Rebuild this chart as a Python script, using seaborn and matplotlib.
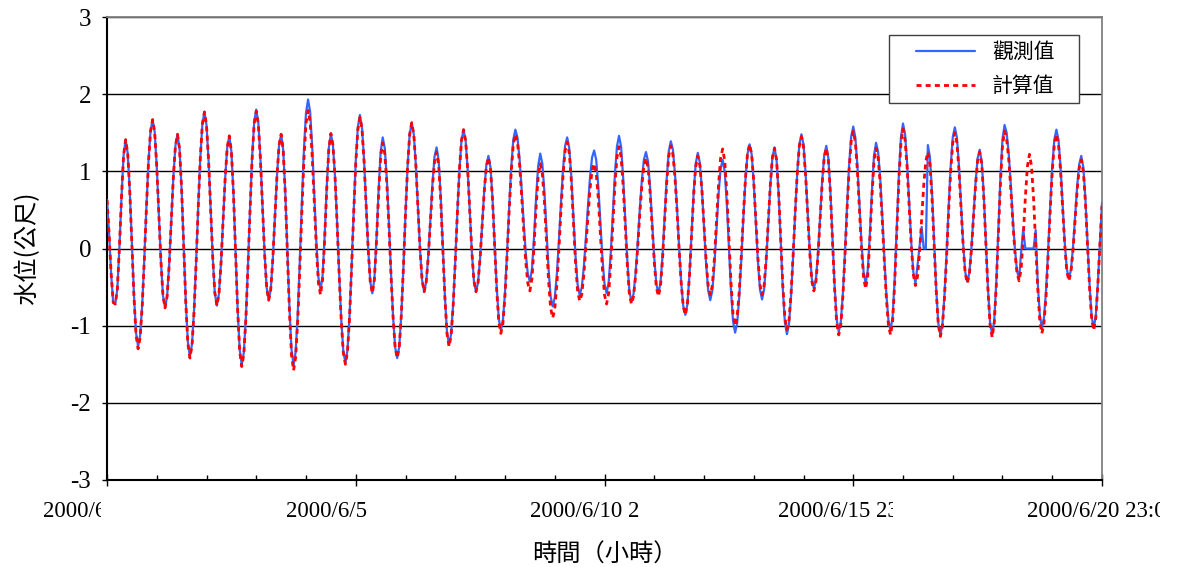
import numpy as np
import pandas as pd
import matplotlib
matplotlib.use("Agg")
import matplotlib.pyplot as plt
import seaborn as sns
from matplotlib.transforms import Bbox, TransformedBbox
from matplotlib.ticker import MultipleLocator
from matplotlib.patches import Rectangle

# ---------------- data (hourly water level, metres) ----------------
observed = [
    0.63, 0.20, -0.33, -0.70, -0.72, -0.52, 0.02, 0.67, 1.21, 1.41,
    1.23, 0.74, 0.07, -0.60, -1.09, -1.27,
    -1.12, -0.72, -0.13, 0.53, 1.12, 1.52, 1.67,
    1.51, 1.06, 0.45, -0.16, -0.61, -0.77,
    -0.62, -0.21, 0.36, 0.92, 1.33, 1.48,
    1.29, 0.76, 0.04, -0.68, -1.21, -1.40,
    -1.24, -0.80, -0.17, 0.54, 1.17, 1.61, 1.77,
    1.60, 1.14, 0.52, -0.11, -0.57, -0.74,
    -0.59, -0.19, 0.36, 0.91, 1.31, 1.46,
    1.26, 0.72, -0.03, -0.77, -1.31, -1.51,
    -1.35, -0.89, -0.22, 0.51, 1.18, 1.64, 1.80,
    1.63, 1.18, 0.57, -0.05, -0.50, -0.67,
    -0.53, -0.13, 0.41, 0.94, 1.34, 1.48,
    1.28, 0.73, -0.02, -0.76, -1.31, -1.51,
    -1.34, -0.86, -0.17, 0.59, 1.28, 1.76, 1.93,
    1.77, 1.31, 0.70, 0.08, -0.38, -0.54,
    -0.35, 0.16, 0.79, 1.30, 1.49,
    1.34, 0.93, 0.34, -0.33, -0.92, -1.33, -1.48,
    -1.32, -0.88, -0.23, 0.48, 1.13, 1.57, 1.73,
    1.58, 1.15, 0.58, 0.00, -0.43, -0.58,
    -0.39, 0.12, 0.74, 1.25, 1.44,
    1.30, 0.90, 0.33, -0.31, -0.88, -1.28, -1.42,
    -1.27, -0.85, -0.24, 0.45, 1.06, 1.48, 1.63,
    1.48, 1.08, 0.54, -0.01, -0.41, -0.56,
    -0.43, -0.09, 0.38, 0.84, 1.19, 1.31,
    1.14, 0.67, 0.03, -0.61, -1.08, -1.25,
    -1.11, -0.72, -0.17, 0.46, 1.01, 1.40, 1.54,
    1.40, 1.02, 0.49, -0.04, -0.42, -0.56,
    -0.44, -0.12, 0.32, 0.76, 1.08, 1.20,
    1.05, 0.64, 0.07, -0.50, -0.91, -1.06,
    -0.93, -0.57, -0.05, 0.53, 1.05, 1.41, 1.54,
    1.44, 1.17, 0.78, 0.34, -0.06, -0.33, -0.43,
    -0.27, 0.14, 0.66, 1.07, 1.23,
    1.10, 0.74, 0.24, -0.26, -0.62, -0.75,
    -0.64, -0.34, 0.10, 0.59, 1.03, 1.33, 1.44,
    1.30, 0.93, 0.42, -0.09, -0.46, -0.60,
    -0.51, -0.25, 0.13, 0.54, 0.92, 1.18, 1.27,
    1.15, 0.81, 0.35, -0.12, -0.46, -0.58,
    -0.44, -0.07, 0.44, 0.95, 1.32, 1.46,
    1.32, 0.92, 0.39, -0.15, -0.55, -0.69,
    -0.59, -0.32, 0.06, 0.50, 0.88, 1.15, 1.25,
    1.13, 0.79, 0.34, -0.12, -0.46, -0.58,
    -0.45, -0.09, 0.41, 0.90, 1.26, 1.39,
    1.28, 0.97, 0.52, 0.01, -0.44, -0.75, -0.86,
    -0.72, -0.34, 0.19, 0.72, 1.10, 1.24,
    1.11, 0.76, 0.29, -0.19, -0.54, -0.67,
    -0.55, -0.22, 0.24, 0.70, 1.03, 1.15,
    1.00, 0.59, 0.03, -0.53, -0.94, -1.09,
    -0.97, -0.63, -0.14, 0.40, 0.89, 1.23, 1.35,
    1.22, 0.85, 0.35, -0.16, -0.53, -0.66,
    -0.53, -0.17, 0.33, 0.82, 1.18, 1.31,
    1.15, 0.71, 0.10, -0.51, -0.95, -1.11,
    -0.98, -0.62, -0.10, 0.47, 0.99, 1.35, 1.48,
    1.35, 0.98, 0.48, -0.02, -0.39, -0.52,
    -0.40, -0.06, 0.41, 0.87, 1.21, 1.33,
    1.17, 0.73, 0.13, -0.48, -0.92, -1.08,
    -0.95, -0.58, -0.05, 0.55, 1.08, 1.45, 1.58,
    1.44, 1.07, 0.57, 0.06, -0.31, -0.45,
    -0.28, 0.18, 0.74, 1.20, 1.37,
    1.25, 0.91, 0.43, -0.12, -0.60, -0.94, -1.06,
    -0.88, -0.39, 0.28, 0.95, 1.44, 1.62,
    1.48, 1.10, 0.59, 0.07, -0.31, -0.45,
    -0.22, 0.03, 0.28, 0.00, 0.00, 1.34,
    1.18, 0.73, 0.11, -0.51, -0.96, -1.12,
    -0.99, -0.61, -0.08, 0.53, 1.06, 1.44, 1.57,
    1.44, 1.07, 0.57, 0.07, -0.30, -0.43,
    -0.32, 0.00, 0.43, 0.85, 1.17, 1.28,
    1.12, 0.68, 0.08, -0.52, -0.96, -1.12,
    -0.94, -0.44, 0.24, 0.92, 1.42, 1.60,
    1.50, 1.23, 0.83, 0.38, -0.01, -0.29, -0.39,
    -0.05, 0.26, 0.00, 0.00, 0.00, 0.00, 0.00, 0.24, -0.45, -0.86, -1.03,
    -0.90, -0.55, -0.03, 0.54, 1.06, 1.41, 1.54,
    1.41, 1.06, 0.58, 0.09, -0.26, -0.39,
    -0.28, 0.01, 0.41, 0.80, 1.09, 1.20,
    1.05, 0.64, 0.09, -0.47, -0.88, -1.03,
    -0.88, -0.45, 0.08, 0.59,
]

computed = [
    0.63, 0.20, -0.33, -0.70, -0.72, -0.52, 0.02, 0.67, 1.21, 1.41,
    1.23, 0.73, 0.06, -0.62, -1.12, -1.30,
    -1.15, -0.74, -0.15, 0.52, 1.11, 1.52, 1.67,
    1.51, 1.06, 0.45, -0.16, -0.61, -0.77,
    -0.62, -0.21, 0.36, 0.92, 1.33, 1.48,
    1.29, 0.76, 0.03, -0.70, -1.23, -1.42,
    -1.26, -0.82, -0.18, 0.53, 1.17, 1.61, 1.77,
    1.60, 1.14, 0.52, -0.11, -0.57, -0.74,
    -0.59, -0.19, 0.36, 0.91, 1.31, 1.46,
    1.26, 0.72, -0.04, -0.79, -1.33, -1.53,
    -1.37, -0.91, -0.24, 0.49, 1.16, 1.62, 1.78,
    1.61, 1.16, 0.56, -0.06, -0.50, -0.67,
    -0.53, -0.13, 0.41, 0.94, 1.34, 1.48,
    1.28, 0.71, -0.06, -0.81, -1.38, -1.58,
    -1.41, -0.94, -0.27, 0.48, 1.15, 1.62, 1.79,
    1.64, 1.19, 0.60, 0.00, -0.45, -0.60,
    -0.40, 0.12, 0.77, 1.29, 1.49,
    1.34, 0.93, 0.33, -0.34, -0.94, -1.35, -1.50,
    -1.34, -0.90, -0.25, 0.45, 1.10, 1.54, 1.70,
    1.55, 1.13, 0.56, -0.01, -0.43, -0.58,
    -0.40, 0.10, 0.69, 1.19, 1.37,
    1.23, 0.84, 0.29, -0.34, -0.89, -1.28, -1.42,
    -1.27, -0.85, -0.24, 0.45, 1.06, 1.48, 1.63,
    1.48, 1.08, 0.54, -0.01, -0.41, -0.56,
    -0.43, -0.11, 0.35, 0.79, 1.13, 1.25,
    1.08, 0.62, -0.01, -0.64, -1.10, -1.27,
    -1.13, -0.74, -0.18, 0.45, 1.01, 1.40, 1.54,
    1.40, 1.02, 0.49, -0.04, -0.42, -0.56,
    -0.44, -0.12, 0.31, 0.74, 1.06, 1.18,
    1.03, 0.62, 0.04, -0.54, -0.95, -1.10,
    -0.97, -0.61, -0.10, 0.48, 0.99, 1.35, 1.48,
    1.38, 1.10, 0.70, 0.24, -0.17, -0.45, -0.55,
    -0.39, 0.02, 0.53, 0.94, 1.10,
    0.97, 0.61, 0.10, -0.41, -0.77, -0.90,
    -0.79, -0.47, -0.02, 0.50, 0.95, 1.27, 1.38,
    1.24, 0.87, 0.35, -0.17, -0.54, -0.68,
    -0.60, -0.35, 0.02, 0.41, 0.77, 1.01, 1.10,
    0.98, 0.65, 0.20, -0.27, -0.60, -0.72,
    -0.58, -0.21, 0.30, 0.81, 1.18, 1.32,
    1.19, 0.81, 0.31, -0.21, -0.59, -0.72,
    -0.62, -0.36, 0.01, 0.44, 0.81, 1.07, 1.17,
    1.05, 0.72, 0.28, -0.17, -0.50, -0.62,
    -0.49, -0.14, 0.36, 0.85, 1.20, 1.33,
    1.22, 0.92, 0.48, -0.01, -0.45, -0.75, -0.86,
    -0.72, -0.35, 0.17, 0.69, 1.06, 1.20,
    1.08, 0.75, 0.30, -0.15, -0.48, -0.60,
    -0.48, -0.13, 0.35, 0.82, 1.17, 1.29,
    1.14, 0.72, 0.15, -0.43, -0.85, -1.00,
    -0.88, -0.56, -0.09, 0.44, 0.91, 1.24, 1.35,
    1.22, 0.87, 0.38, -0.12, -0.47, -0.60,
    -0.48, -0.13, 0.36, 0.83, 1.18, 1.30,
    1.15, 0.72, 0.13, -0.47, -0.89, -1.05,
    -0.93, -0.58, -0.08, 0.48, 0.98, 1.33, 1.45,
    1.32, 0.95, 0.45, -0.05, -0.42, -0.55,
    -0.43, -0.09, 0.38, 0.84, 1.18, 1.30,
    1.14, 0.70, 0.09, -0.52, -0.96, -1.12,
    -0.99, -0.62, -0.10, 0.50, 1.02, 1.39, 1.52,
    1.38, 1.01, 0.50, -0.01, -0.38, -0.52,
    -0.35, 0.11, 0.67, 1.13, 1.30,
    1.18, 0.84, 0.36, -0.18, -0.66, -1.00, -1.12,
    -0.94, -0.45, 0.21, 0.88, 1.37, 1.55,
    1.41, 1.04, 0.54, 0.03, -0.34, -0.48,
    -0.36, -0.05, 0.39, 0.82, 1.13, 1.25,
    1.09, 0.65, 0.06, -0.54, -0.98, -1.14,
    -1.01, -0.64, -0.12, 0.48, 1.00, 1.37, 1.50,
    1.37, 1.01, 0.53, 0.04, -0.32, -0.45,
    -0.34, -0.02, 0.40, 0.82, 1.14, 1.25,
    1.09, 0.65, 0.05, -0.55, -0.99, -1.15,
    -0.97, -0.48, 0.19, 0.85, 1.34, 1.52,
    1.42, 1.16, 0.77, 0.33, -0.05, -0.32, -0.42,
    -0.26, 0.15, 0.65, 1.06, 1.22, 1.07, 0.64, 0.06, -0.52, -0.94, -1.10,
    -0.97, -0.62, -0.10, 0.48, 1.00, 1.35, 1.48,
    1.35, 1.01, 0.53, 0.05, -0.29, -0.42,
    -0.31, -0.03, 0.37, 0.75, 1.04, 1.15,
    1.00, 0.60, 0.05, -0.51, -0.91, -1.06,
    -0.90, -0.47, 0.06, 0.55,
]

hours = list(range(len(observed)))
x_tick_hours = [0, 120, 240, 360, 480]
x_tick_labels = ["2000/6/1 0:00", "2000/6/5 23:00", "2000/6/10 23:00",
                 "2000/6/15 23:00", "2000/6/20 23:00"]
y_ticks = [-3, -2, -1, 0, 1, 2, 3]
series_names = ["觀測值", "計算值"]
x_title = "時間（小時）"
y_title = "水位(公尺)"

# ---------------- style ----------------
sns.set_theme(style="white")
plt.rcParams["font.family"] = ["Liberation Serif", "Noto Sans CJK TC"]
plt.rcParams["axes.unicode_minus"] = False
for k in ["text.color", "axes.labelcolor", "xtick.color", "ytick.color", "axes.edgecolor"]:
    plt.rcParams[k] = "black"

W, H = 1186, 567
fig = plt.figure(figsize=(W / 100, H / 100), dpi=100)
fig.patch.set_facecolor("white")
ax = fig.add_axes([107 / W, 1 - 480 / H, 995 / W, 463 / H])
ax.set_facecolor("white")

df = pd.DataFrame({"hour": hours, "obs": observed, "calc": computed})
sns.lineplot(data=df, x="hour", y="obs", ax=ax, color="#3366FF",
             linewidth=1.6, zorder=3, label=series_names[0])
sns.lineplot(data=df, x="hour", y="calc", ax=ax, color="#FF0000",
             linewidth=2.0, linestyle=(0, (1.8, 1.5)), zorder=4,
             label=series_names[1])

ax.set_xlim(0, 480)
ax.set_ylim(-3, 3)

ax.set_xticks(x_tick_hours)
ax.set_xticklabels(x_tick_labels, fontsize=16.5)
ax.xaxis.set_minor_locator(MultipleLocator(24))
ax.tick_params(axis="x", which="major", direction="inout", length=8.6,
               width=1.0, pad=11, bottom=True, colors="black")
ax.tick_params(axis="x", which="minor", direction="in", length=3.8,
               width=1.0, bottom=True, colors="black")

ax.set_yticks(y_ticks)
ax.set_yticklabels([str(v) for v in y_ticks], fontsize=18)
ax.tick_params(axis="y", which="major", direction="out", length=3.5,
               width=1.0, pad=8, left=True, colors="black")

ax.yaxis.grid(True, color="black", linewidth=1.0)
ax.xaxis.grid(False)
ax.set_axisbelow(True)

for side in ["left", "bottom"]:
    ax.spines[side].set_color("black")
    ax.spines[side].set_linewidth(1.5)
for side in ["top", "right"]:
    ax.spines[side].set_color("#808080")
    ax.spines[side].set_linewidth(1.3)

ax.set_xlabel(x_title, fontsize=17.5, family=["Noto Sans CJK TC"], labelpad=14)
ax.set_ylabel(y_title, fontsize=17.5, family=["Noto Sans CJK TC"], labelpad=22)

# legend content (frame drawn separately with wider side margins)
leg = ax.legend(loc="upper left", bbox_to_anchor=((916 - 107) / 995, (480 - 41) / 463),
                borderaxespad=0, frameon=False,
                prop={"family": "Noto Sans CJK TC", "size": 15},
                handlelength=2.85, handletextpad=0.8, labelspacing=0.58,
                borderpad=0.0)
leg.set_zorder(6)

# clip the date labels like the original (narrow label slots)
clip_right_px = [101, 370, 639, 893, 1160]
for lab, xr in zip(ax.get_xticklabels(), clip_right_px):
    bb = TransformedBbox(Bbox([[0, 0], [xr / W, 1]]), fig.transFigure)
    lab.set_clip_box(bb)
    lab.set_clip_on(True)

fig.canvas.draw()
lb = leg.get_window_extent()
pad_l, pad_r, pad_v = 27, 24, 6
frame = Rectangle(((lb.x0 - pad_l) / W, (lb.y0 - pad_v) / H),
                  (lb.width + pad_l + pad_r) / W, (lb.height + 2 * pad_v) / H,
                  transform=fig.transFigure, facecolor="white",
                  edgecolor="#404040", linewidth=1.0, zorder=5, clip_on=False)
ax.add_artist(frame)

fig.savefig("out.png", dpi=100, facecolor="white")
